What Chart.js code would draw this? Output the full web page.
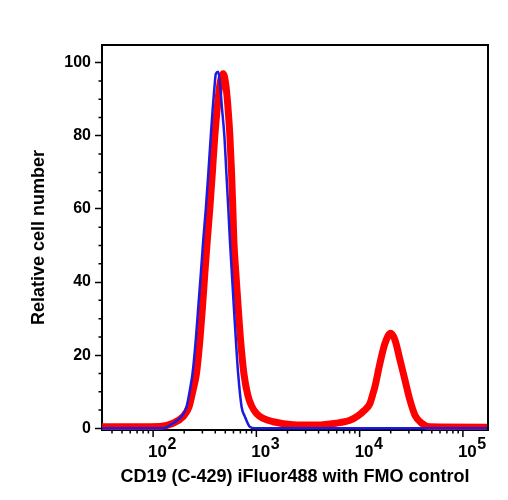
<!DOCTYPE html>
<html>
<head>
<meta charset="utf-8">
<script src="https://cdn.jsdelivr.net/npm/chart.js@4.4.1/dist/chart.umd.min.js"></script>
<style>
html, body { margin: 0; padding: 0; background: #fff; }
</style>
</head>
<body>
<canvas id="histChart" width="508" height="500"></canvas>
<script>
// FMO control (blue) - channel value / relative count
const fmoX = [32, 124, 156, 188, 211, 227, 241, 259, 274, 290, 306, 324, 343, 362, 379, 392, 405, 427,
    448, 463, 490, 512, 535, 554, 579, 605, 633, 666, 719, 774, 865, 967, 175000];
const fmoY = [0, 0, 1.4, 3.2, 5.9, 10.5, 15, 24.2, 33.3, 42.4, 51.5, 60, 70, 80, 88, 93, 97, 97.5,
    93, 88, 80, 70, 60, 51.5, 42.4, 33.3, 24.2, 15, 5.9, 3.2, 0.4, 0, 0];

// CD19 stained sample (red)
const stainX = [32, 116, 156, 195, 223, 244, 263, 284, 301, 317, 335, 354, 375, 396, 419, 443, 477,
    506, 530, 554, 575, 592, 605, 633, 666, 703, 757, 827, 904, 1005, 1164, 1455, 2274, 3832, 5893,
    8054, 9627, 11010, 12590, 13310, 14070, 15730, 17580, 19960, 21980, 24590, 27480, 30710, 34340, 39880,
    47990, 175000];
const stainY = [0.4, 0.5, 1.4, 3.2, 5.9, 10.5, 15, 24.2, 33.3, 42.4, 51.5, 60, 70, 80, 88, 94, 97,
    94, 88, 80, 70, 60, 51.5, 42.4, 33.3, 24.2, 15, 9, 6, 4, 2.7, 1.8, 1, 0.9, 1.4,
    2.2, 3.4, 4.8, 6.8, 9, 11.4, 17.8, 23.2, 26, 24.2, 18.7, 13.2, 7.7, 3.6, 1.4,
    0.4, 0.3];

const yTickValues = [0, 20, 40, 60, 80, 100];
const xDecades = [2, 3, 4, 5];
const yTitle = 'Relative cell number';
const xTitle = 'CD19 (C-429) iFluor488 with FMO control';

const FONT = '"Liberation Sans", Arial, Helvetica, sans-serif';

function toPoints(xs, ys) {
    return xs.map((x, i) => ({ x: x, y: ys[i] }));
}

// box frame, minor ticks and 10^n labels
const frameTicks = {
    id: 'frameTicks',
    afterDraw(chart) {
        const ctx = chart.ctx;
        const a = chart.chartArea;
        const xs = chart.scales.x;
        const ys = chart.scales.y;
        ctx.save();
        ctx.strokeStyle = '#000';
        ctx.lineWidth = 2;
        ctx.beginPath();
        ctx.moveTo(a.left, a.top);
        ctx.lineTo(a.right, a.top);
        ctx.lineTo(a.right, a.bottom);
        ctx.stroke();

        ctx.lineWidth = 1.5;
        ctx.beginPath();
        for (let n = 1; n <= 5; n++) {
            for (let m = 1; m <= 9; m++) {
                const v = m * Math.pow(10, n);
                if (v < xs.min || v > xs.max) continue;
                const px = xs.getPixelForValue(v);
                const len = m === 1 ? 7 : 3.5;
                ctx.moveTo(px, a.bottom);
                ctx.lineTo(px, a.bottom + len);
            }
        }
        for (let v = 5; v < ys.max; v += 5) {
            if (v % 20 === 0) continue;
            const py = ys.getPixelForValue(v);
            ctx.moveTo(a.left, py);
            ctx.lineTo(a.left - 3.5, py);
        }
        ctx.stroke();

        ctx.fillStyle = '#000';
        ctx.textAlign = 'left';
        ctx.textBaseline = 'alphabetic';
        xDecades.forEach(function (n) {
            const px = xs.getPixelForValue(Math.pow(10, n));
            ctx.font = 'bold 17px ' + FONT;
            const w = ctx.measureText('10').width;
            ctx.fillText('10', px - 5, 457);
            ctx.font = 'bold 16px ' + FONT;
            ctx.fillText(String(n), px - 5 + w + 0.5, 448.5);
        });
        ctx.restore();
    }
};

new Chart(document.getElementById('histChart'), {
    type: 'line',
    data: {
        datasets: [{
            label: 'FMO control',
            data: toPoints(fmoX, fmoY),
            borderColor: '#1c1ce0',
            borderWidth: 2.5,
            pointRadius: 0,
            cubicInterpolationMode: 'monotone',
            fill: false
        }, {
            label: 'CD19',
            data: toPoints(stainX, stainY),
            borderColor: '#ff0000',
            borderWidth: 7,
            borderJoinStyle: 'round',
            borderCapStyle: 'round',
            pointRadius: 0,
            cubicInterpolationMode: 'monotone',
            fill: false
        }]
    },
    options: {
        responsive: false,
        animation: false,
        layout: { padding: { left: 0, top: 45, right: 20, bottom: 0 } },
        plugins: { legend: { display: false }, tooltip: { enabled: false } },
        scales: {
            x: {
                type: 'logarithmic',
                min: 32,
                max: 175000,
                afterFit: function (scale) { scale.height = 70; },
                grid: { display: false },
                border: { display: true, color: '#000', width: 2 },
                ticks: { display: false },
                title: {
                    display: true,
                    text: xTitle,
                    color: '#000',
                    font: { family: FONT, size: 18, weight: 'bold' },
                    padding: { top: 0, bottom: 12 }
                }
            },
            y: {
                min: -0.46,
                max: 104.84,
                afterFit: function (scale) { scale.width = 102; },
                afterBuildTicks: function (scale) {
                    scale.ticks = yTickValues.map(v => ({ value: v }));
                },
                grid: {
                    display: true,
                    drawOnChartArea: false,
                    drawTicks: true,
                    tickLength: 7,
                    tickWidth: 1.5,
                    tickColor: '#000'
                },
                border: { display: true, color: '#000', width: 2 },
                ticks: {
                    color: '#000',
                    padding: 4,
                    font: { family: FONT, size: 16, weight: 'bold' }
                },
                title: {
                    display: true,
                    text: yTitle,
                    color: '#000',
                    font: { family: FONT, size: 18, weight: 'bold' },
                    padding: { top: 28, bottom: 0 }
                }
            }
        }
    },
    plugins: [frameTicks]
});
</script>
</body>
</html>
